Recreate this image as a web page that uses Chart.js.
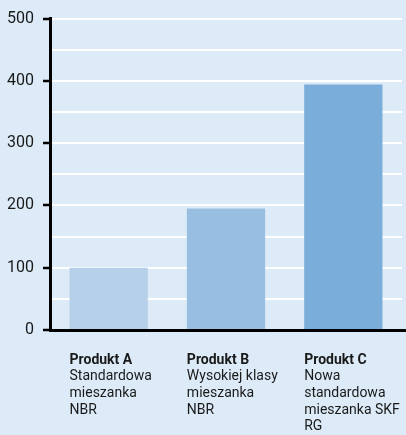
<!DOCTYPE html>
<html>
<head>
<meta charset="utf-8">
<script src="https://cdn.jsdelivr.net/npm/chart.js@4"></script>
<style>
  html, body { margin: 0; padding: 0; background: #dcebf7; }
  #wrap { width: 406px; height: 435px; }
</style>
</head>
<body>
<div id="wrap"><canvas id="myChart" width="406" height="435"></canvas></div>
<script>
const products = ['Produkt A', 'Produkt B', 'Produkt C'];
const descriptions = [
    ['Standardowa', 'mieszanka', 'NBR'],
    ['Wysokiej klasy', 'mieszanka', 'NBR'],
    ['Nowa', 'standardowa', 'mieszanka SKF', 'RG']
];
const values = [100, 195, 394];
const barColors = ['#b5d0e8', '#98bfe2', '#7aadd9'];
const yTicks = [0, 100, 200, 300, 400, 500];

const textColor = '#1a1a1a';

// bold product name + description lines under each bar, left aligned to the bar
const bottomLabels = {
    id: 'bottomLabels',
    afterDraw(chart) {
        const ctx = chart.ctx;
        const meta = chart.getDatasetMeta(0);
        const top = chart.chartArea.bottom + 30;
        const lineH = 16.7;
        ctx.save();
        ctx.fillStyle = textColor;
        ctx.textAlign = 'left';
        ctx.textBaseline = 'middle';
        meta.data.forEach((bar, i) => {
            const left = bar.x - bar.width / 2;
            ctx.font = 'bold 14px Roboto';
            ctx.fillText(products[i], left, top);
            ctx.font = '14px Roboto';
            descriptions[i].forEach((line, j) => {
                ctx.fillText(line, left, top + lineH * (j + 1));
            });
        });
        ctx.restore();
    }
};

// x axis line runs on to the right edge of the picture
const axisExtend = {
    id: 'axisExtend',
    afterDraw(chart) {
        const ctx = chart.ctx;
        const y = chart.scales.x.top + 0.5;
        ctx.save();
        ctx.strokeStyle = '#000';
        ctx.lineWidth = 3;
        ctx.beginPath();
        ctx.moveTo(chart.chartArea.right - 1, y);
        ctx.lineTo(chart.width, y);
        ctx.stroke();
        ctx.restore();
    }
};

const ctx = document.getElementById('myChart').getContext('2d');
new Chart(ctx, {
    type: 'bar',
    data: {
        labels: products,
        datasets: [{
            data: values,
            backgroundColor: barColors,
            borderWidth: 0,
            barPercentage: 0.667,
            categoryPercentage: 1
        }]
    },
    options: {
        responsive: false,
        animation: false,
        layout: { padding: { top: 16, right: 4, left: 0, bottom: 0 } },
        plugins: {
            legend: { display: false },
            tooltip: { enabled: false }
        },
        scales: {
            x: {
                ticks: { display: false },
                grid: { display: false },
                border: { color: '#000', width: 3 },
                afterFit(scale) { scale.height = 105; }
            },
            y: {
                min: 0,
                max: 500,
                ticks: {
                    stepSize: 50,
                    padding: 9,
                    color: textColor,
                    font: { family: 'Roboto', size: 16 },
                    callback: v => yTicks.includes(v) ? String(v) : ''
                },
                grid: {
                    color: c => c.tick && c.tick.value === 0 ? 'rgba(0,0,0,0)' : '#ffffff',
                    lineWidth: 2,
                    tickLength: 7,
                    tickWidth: 2.5,
                    tickColor: c => c.tick && yTicks.includes(c.tick.value) ? '#000' : 'rgba(0,0,0,0)'
                },
                border: { color: '#000', width: 3 },
                afterFit(scale) { scale.width = 50; }
            }
        }
    },
    plugins: [bottomLabels, axisExtend]
});
</script>
</body>
</html>
